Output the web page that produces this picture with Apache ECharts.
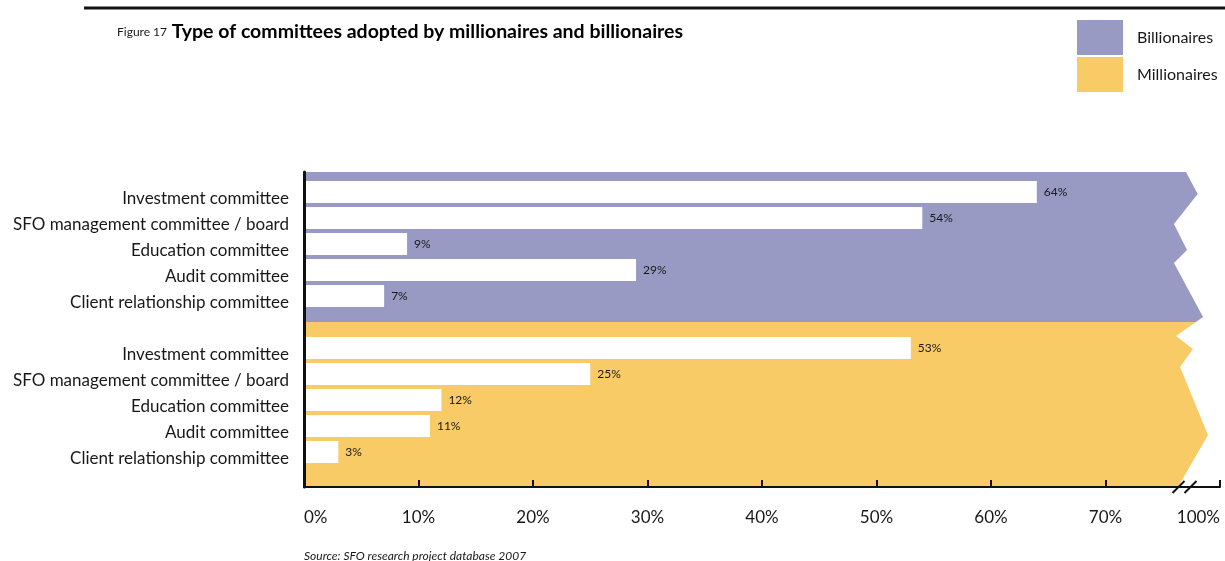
<!DOCTYPE html>
<html>
<head>
<meta charset="utf-8">
<script src="https://cdn.jsdelivr.net/npm/echarts@6/dist/echarts.min.js"></script>
<style>html,body{margin:0;padding:0;background:#fff}#c{width:1225px;height:561px}</style>
</head>
<body>
<div id="c"></div>
<script>
// ---- data ----
const committees = ['Investment committee', 'SFO management committee / board', 'Education committee', 'Audit committee', 'Client relationship committee'];
const billionaires = [64, 54, 9, 29, 7];
const millionaires = [53, 25, 12, 11, 3];
const xTickLabels = ['0%', '10%', '20%', '30%', '40%', '50%', '60%', '70%', '100%'];
const seriesNames = ['Billionaires', 'Millionaires'];
// decorative jagged right edges of the two background panels (x in axis %, y in row units)
const billEdge = [[77.03, -0.27], [78.05, 0.58], [75.98, 1.73], [77.12, 2.73], [75.98, 3.23], [78.52, 5.31], [77.9, 5.5]];
const millEdge = [[77.9, 5.5], [76.16, 6.04], [77.64, 6.54], [76.51, 7.23], [78.95, 9.85], [76.33, 11.846]];

const FONT = 'Lato';
const PURPLE = '#989ac3';
const YELLOW = '#f8cb66';
const TXT = '#1a1718';

const cats = committees.concat(['']).concat(committees);
const values = billionaires.concat(['-']).concat(millionaires);

const chart = echarts.init(document.getElementById('c'), null, {renderer: 'canvas'});

function panel(edge, yTop, yBot) {
  return function (params, api) {
    const pts = [[0, yTop]].concat(edge).concat([[0, yBot]]).map(p => api.coord(p));
    return {type: 'polygon', shape: {points: pts}, style: {fill: api.visual('color')}};
  };
}

chart.setOption({
  animation: false,
  textStyle: {fontFamily: FONT},
  title: {
    left: 117, top: 22, padding: 0,
    text: '{a|Figure 17} {b|Type of committees adopted by millionaires and billionaires}',
    textStyle: {fontWeight: 'normal', rich: {
      a: {fontSize: 12, fontWeight: 'normal', color: TXT, fontFamily: FONT},
      b: {fontSize: 19.5, fontWeight: 'bold', color: '#000', fontFamily: FONT}
    }}
  },
  legend: {
    orient: 'vertical', left: 1077, top: 20, padding: 0,
    itemWidth: 46, itemHeight: 35, itemGap: 2, selectedMode: false,
    icon: 'rect',
    data: seriesNames,
    textStyle: {fontSize: 16, color: TXT, fontFamily: FONT, padding: [3, 0, 0, 9]}
  },
  graphic: [
    {type: 'line', shape: {x1: 84, y1: 8, x2: 1225, y2: 8}, style: {stroke: '#111', lineWidth: 3}},
    {type: 'text', left: 304, top: 550, style: {text: 'Source: SFO research project database 2007', fontFamily: FONT, fontStyle: 'italic', fontSize: 12, fill: TXT}}
  ],
  grid: [
    {left: 304, right: 5, top: 172, bottom: 74},
    {left: 304, right: 5, top: 179, bottom: 96}
  ],
  xAxis: [
    {gridIndex: 0, type: 'value', position: 'bottom', min: 0, max: 80, interval: 10, z: 5,
     axisLine: {show: true, onZero: false, lineStyle: {color: '#111', width: 2}},
     axisTick: {show: true, inside: true, length: 7, lineStyle: {color: '#111', width: 2}},
     splitLine: {show: false},
     axisLabel: {margin: 22, fontSize: 17, color: TXT, fontFamily: FONT,
       alignMinLabel: 'left', alignMaxLabel: 'right',
       formatter: v => xTickLabels[Math.round(v / 10)]}},
    {gridIndex: 1, type: 'value', min: 0, max: 80, show: false}
  ],
  yAxis: [
    {gridIndex: 0, type: 'value', inverse: true, min: -0.27, max: 11.846, z: 5,
     axisLine: {show: true, onZero: false, lineStyle: {color: '#111', width: 3}},
     axisTick: {show: false}, axisLabel: {show: false}, splitLine: {show: false}},
    {gridIndex: 1, type: 'category', inverse: true, data: cats,
     axisLine: {show: false}, axisTick: {show: false}, splitLine: {show: false},
     axisLabel: {margin: 15, fontSize: 17, color: TXT, fontFamily: FONT, verticalAlign: 'top', lineHeight: 14}}
  ],
  series: [
    {name: seriesNames[0], type: 'custom', xAxisIndex: 0, yAxisIndex: 0, z: 1,
     itemStyle: {color: PURPLE}, data: [[0, 0]], renderItem: panel(billEdge, -0.27, 5.5)},
    {name: seriesNames[1], type: 'custom', xAxisIndex: 0, yAxisIndex: 0, z: 1,
     itemStyle: {color: YELLOW}, data: [[0, 6]], renderItem: panel(millEdge, 5.5, 11.846)},
    {name: 'break', type: 'custom', xAxisIndex: 0, yAxisIndex: 0, z: 6, clip: false, silent: true,
     data: [[76.9, 11.846]],
     renderItem: function (params, api) {
       const p = api.coord([api.value(0), api.value(1)]);
       const sl = dx => ({type: 'line', shape: {x1: p[0] + dx - 6, y1: p[1] + 6, x2: p[0] + dx + 6, y2: p[1] - 6},
                          style: {stroke: '#111', lineWidth: 2}});
       return {type: 'group', children: [sl(-6), sl(6)]};
     }},
    {name: 'values', type: 'bar', xAxisIndex: 1, yAxisIndex: 1, z: 3,
     barWidth: 22, data: values,
     itemStyle: {color: '#ffffff'},
     label: {show: true, position: 'right', distance: 7, fontSize: 12, color: TXT, fontFamily: FONT,
             formatter: p => p.value + '%'}}
  ]
});
</script>
</body>
</html>
